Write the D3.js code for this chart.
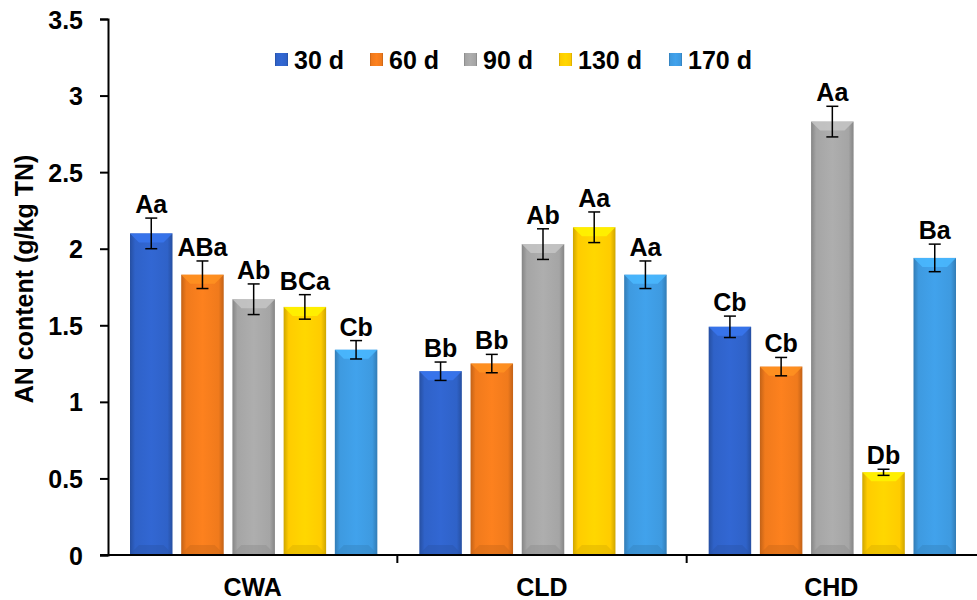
<!DOCTYPE html>
<html><head><meta charset="utf-8">
<script src="https://cdn.jsdelivr.net/npm/d3@7"></script>
<style>body{margin:0;background:#fff;} text{font-family:Arial,"Liberation Sans",sans-serif;font-weight:bold;}</style>
</head><body><svg id="c" width="977" height="600"></svg>
<script>
const categories = ["CWA","CLD","CHD"];
const seriesNames = ["30 d","60 d","90 d","130 d","170 d"];
const values = [
  [2.10, 1.83, 1.67, 1.62, 1.34],
  [1.20, 1.25, 2.03, 2.14, 1.83],
  [1.49, 1.23, 2.83, 0.54, 1.94]
];
const errors = [
  [0.10, 0.09, 0.10, 0.08, 0.06],
  [0.06, 0.06, 0.10, 0.10, 0.09],
  [0.07, 0.06, 0.10, 0.02, 0.09]
];
const letters = [
  ["Aa","ABa","Ab","BCa","Cb"],
  ["Bb","Bb","Ab","Aa","Aa"],
  ["Cb","Cb","Aa","Db","Ba"]
];
const yTicks = [0,0.5,1,1.5,2,2.5,3,3.5];
const colors = ["#2f62c8","#f07a1c","#a5a5a5","#ffcc00","#3e9ae0"];

const FS = 25;
const svg = d3.select("#c");
const m = {l:108, r:0, t:19, b:45};
const W = 977, H = 600;
const x0 = d3.scaleBand().domain(categories).range([m.l, W-1]).paddingInner(0).paddingOuter(0);
const x1 = d3.scaleBand().domain(seriesNames).range([22, x0.bandwidth()-20]).paddingInner(0.17);
const y = d3.scaleLinear().domain([0,3.5]).range([H-m.b, m.t]);

const defs = svg.append("defs");
colors.forEach((c,i)=>{
  const g = defs.append("linearGradient").attr("id","g"+i).attr("x1","0").attr("x2","1").attr("y1","0").attr("y2","0");
  const dk = d3.color(c).darker(0.6), lt = d3.color(c).brighter(0.15);
  g.append("stop").attr("offset","0%").attr("stop-color",dk);
  g.append("stop").attr("offset","12%").attr("stop-color",c);
  g.append("stop").attr("offset","50%").attr("stop-color",lt);
  g.append("stop").attr("offset","88%").attr("stop-color",c);
  g.append("stop").attr("offset","100%").attr("stop-color",dk);
});

// y axis
const yAxis = d3.axisLeft(y).tickValues(yTicks).tickSize(8).tickFormat(d=>d3.format("")(d));
const ya = svg.append("g").attr("transform",`translate(${m.l},0)`).call(yAxis);
ya.attr("font-size",FS).attr("font-family",null);
ya.select(".domain").attr("stroke","#000").attr("stroke-width",2);
ya.selectAll(".tick line").attr("stroke","#000").attr("stroke-width",2);
ya.selectAll(".tick text").attr("font-size",FS).attr("fill","#000").attr("x",-25).attr("dy","0.36em");

// x axis
const xa = svg.append("g").attr("transform",`translate(0,${y(0)})`);
xa.append("line").attr("x1",m.l-8).attr("x2",W).attr("y1",0).attr("y2",0).attr("stroke","#000").attr("stroke-width",2);
categories.forEach((c,i)=>{
  if(i>0) xa.append("line").attr("x1",x0(c)).attr("x2",x0(c)).attr("y1",0).attr("y2",8).attr("stroke","#000").attr("stroke-width",2);
  xa.append("text").attr("x",x0(c)+x0.bandwidth()/2).attr("y",41).attr("text-anchor","middle").attr("font-size",FS).text(c);
});

// bars
categories.forEach((c,ci)=>{
  const g = svg.append("g").attr("transform",`translate(${x0(c)},0)`);
  seriesNames.forEach((s,si)=>{
    const v = values[ci][si], e = errors[ci][si];
    const bx = x1(s), bw = x1.bandwidth(), top = y(v), bot = y(0)-1;
    g.append("rect").attr("x",bx).attr("y",top).attr("width",bw).attr("height",bot-top).attr("fill",`url(#g${si})`);
    const bev = 9;
    const lt = d3.color(colors[si]).brighter(0.5);
    g.append("path").attr("d",`M${bx},${top}L${bx+bw},${top}L${bx+bw-bev},${top+bev}L${bx+bev},${top+bev}Z`).attr("fill",lt).attr("opacity",0.85);
    g.append("path").attr("d",`M${bx},${bot}L${bx+bw},${bot}L${bx+bw-bev},${bot-bev}L${bx+bev},${bot-bev}Z`).attr("fill",d3.color(colors[si]).darker(0.4)).attr("opacity",0.5);
    const cx = bx+bw/2;
    g.append("line").attr("x1",cx).attr("x2",cx).attr("y1",y(v+e)).attr("y2",y(v-e)).attr("stroke","#000").attr("stroke-width",1.5);
    [v+e,v-e].forEach(t=>g.append("line").attr("x1",cx-6).attr("x2",cx+6).attr("y1",y(t)).attr("y2",y(t)).attr("stroke","#000").attr("stroke-width",1.5));
    g.append("text").attr("x",cx).attr("y",y(v+e)-5).attr("text-anchor","middle").attr("font-size",FS).text(letters[ci][si]);
  });
});

// y title
svg.append("text").attr("transform",`translate(33,279) rotate(-90)`).attr("text-anchor","middle").attr("font-size",FS).text("AN content (g/kg TN)");

// legend
const legX = [275,370,464,559,669];
seriesNames.forEach((s,i)=>{
  const lg = svg.append("g").attr("transform",`translate(${legX[i]},60)`);
  lg.append("rect").attr("x",0).attr("y",-7).attr("width",13).attr("height",13).attr("fill",`url(#g${i})`);
  lg.append("text").attr("x",19).attr("y",9).attr("font-size",FS).text(s);
});
</script></body></html>
